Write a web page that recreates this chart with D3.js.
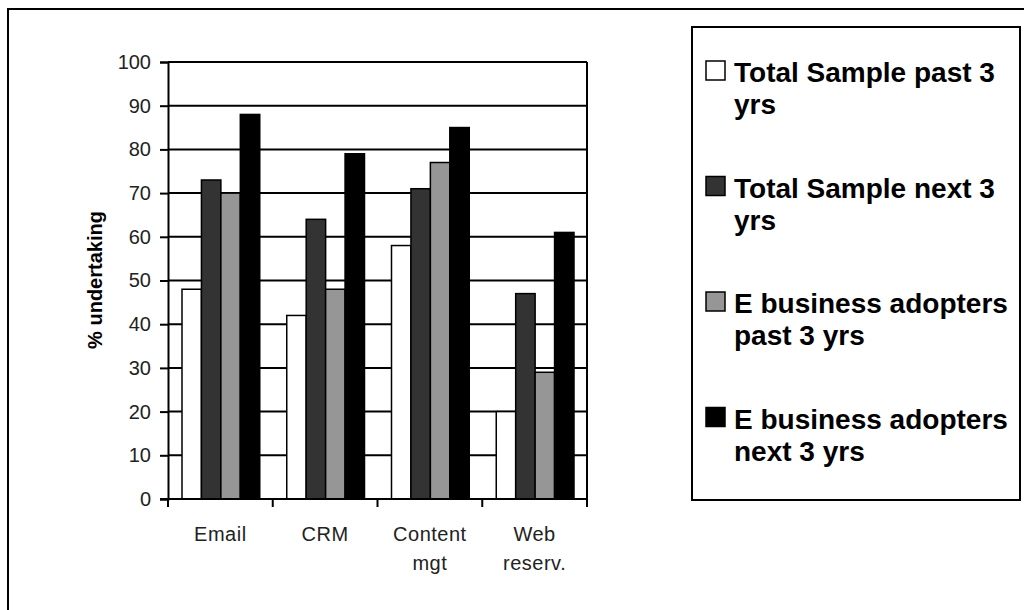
<!DOCTYPE html>
<html lang="en">
<head>
    <meta charset="UTF-8">
    <title>E business activities - bar chart</title>
    <style>
        body { margin: 0; background: #fff; }
        svg { display: block; }
        text { font-family: "Liberation Sans", Arial, sans-serif; fill: #000; }
        .tick-label { font-size: 20px; fill: #222; }
        .cat-label { font-size: 20px; fill: #222; letter-spacing: 0.5px; }
        .y-title { font-size: 20px; font-weight: bold; }
        .legend-text { font-size: 28px; font-weight: bold; }
    </style>
</head>
<body>
    <svg width="1024" height="610"></svg>
    <script src="https://d3js.org/d3.v7.min.js"></script>
    <script>
        // data
        var categories = ["Email", "CRM", "Content mgt", "Web reserv."];
        var seriesNames = ["Total Sample past 3 yrs", "Total Sample next 3 yrs",
                           "E business adopters past 3 yrs", "E business adopters next 3 yrs"];
        var totalPast = [48, 42, 58, 20];
        var totalNext = [73, 64, 71, 47];
        var adoptersPast = [70, 48, 77, 29];
        var adoptersNext = [88, 79, 85, 61];
        var yTicks = [0, 10, 20, 30, 40, 50, 60, 70, 80, 90, 100];
        var colors = ["#ffffff", "#333333", "#969696", "#000000"];

        var seriesValues = [totalPast, totalNext, adoptersPast, adoptersNext];

        var svg = d3.select("svg");

        // outer frame (runs off the right and bottom of the picture)
        svg.append("rect")
            .attr("x", 8).attr("y", 9)
            .attr("width", 1040).attr("height", 640)
            .attr("fill", "none").attr("stroke", "#000").attr("stroke-width", 2);

        var plotLeft = 168, plotRight = 587, plotTop = 62, plotBottom = 499;

        var x0 = d3.scaleBand().domain(categories).range([plotLeft, plotRight]).padding(0);
        var x1 = d3.scaleBand().domain(d3.range(seriesNames.length))
            .range([14, x0.bandwidth() - 13]).padding(0);
        var y = d3.scaleLinear().domain([0, 100]).range([plotBottom, plotTop]);

        // gridlines
        svg.append("g").selectAll("line")
            .data(yTicks.filter(function(t) { return t > 0; }))
            .enter().append("line")
            .attr("x1", plotLeft).attr("x2", plotRight)
            .attr("y1", function(d) { return y(d); })
            .attr("y2", function(d) { return y(d); })
            .attr("stroke", "#000").attr("stroke-width", 2);

        // right border of plot area
        svg.append("line")
            .attr("x1", plotRight).attr("x2", plotRight)
            .attr("y1", plotTop).attr("y2", plotBottom)
            .attr("stroke", "#000").attr("stroke-width", 2);

        // bars
        var groups = svg.append("g").selectAll("g")
            .data(categories)
            .enter().append("g")
            .attr("transform", function(d) { return "translate(" + x0(d) + ",0)"; });

        groups.selectAll("rect")
            .data(function(d, i) {
                return seriesValues.map(function(s, k) { return {k: k, v: s[i]}; });
            })
            .enter().append("rect")
            .attr("x", function(d) { return x1(d.k); })
            .attr("width", x1.bandwidth())
            .attr("y", function(d) { return y(d.v); })
            .attr("height", function(d) { return plotBottom - y(d.v); })
            .attr("fill", function(d) { return colors[d.k]; })
            .attr("stroke", "#000").attr("stroke-width", 1.5);

        // y axis
        var yAxis = svg.append("g")
            .attr("transform", "translate(" + plotLeft + ",0)")
            .call(d3.axisLeft(y).tickValues(yTicks).tickSize(8).tickPadding(9));
        yAxis.select(".domain").attr("stroke", "#000").attr("stroke-width", 2);
        yAxis.selectAll(".tick line").attr("stroke", "#000").attr("stroke-width", 2);
        yAxis.attr("font-family", null).attr("font-size", null);
        yAxis.selectAll(".tick text").attr("class", "tick-label");

        // x axis: ticks on band edges
        var xAxis = svg.append("g")
            .attr("transform", "translate(0," + plotBottom + ")");
        xAxis.append("line")
            .attr("x1", plotLeft - 8).attr("x2", plotRight)
            .attr("stroke", "#000").attr("stroke-width", 2);
        xAxis.selectAll(".xt")
            .data(categories.concat(["end"]))
            .enter().append("line")
            .attr("class", "xt")
            .attr("x1", function(d, i) { return i < categories.length ? x0(d) : plotRight; })
            .attr("x2", function(d, i) { return i < categories.length ? x0(d) : plotRight; })
            .attr("y1", 0).attr("y2", 8)
            .attr("stroke", "#000").attr("stroke-width", 2);

        xAxis.selectAll(".cat-label")
            .data(categories)
            .enter().append("text")
            .attr("class", "cat-label")
            .attr("text-anchor", "middle")
            .attr("x", function(d) { return x0(d) + x0.bandwidth() / 2; })
            .attr("y", 42)
            .each(function(d) {
                var el = d3.select(this);
                d.split(" ").forEach(function(w, i) {
                    el.append("tspan")
                        .attr("x", x0(d) + x0.bandwidth() / 2)
                        .attr("dy", i === 0 ? 0 : 29)
                        .text(w);
                });
            });

        // y title
        svg.append("text")
            .attr("class", "y-title")
            .attr("text-anchor", "middle")
            .attr("transform", "translate(102,280) rotate(-90)")
            .text("% undertaking");

        // legend
        var legend = svg.append("g");
        legend.append("rect")
            .attr("x", 692).attr("y", 27)
            .attr("width", 328).attr("height", 473)
            .attr("fill", "#fff").attr("stroke", "#000").attr("stroke-width", 2);

        var maxW = 285;
        seriesNames.forEach(function(name, k) {
            var base = 82 + k * 115.5;
            legend.append("rect")
                .attr("x", 706).attr("y", base - 21)
                .attr("width", 19).attr("height", 19)
                .attr("fill", colors[k]).attr("stroke", "#000").attr("stroke-width", 1.5);
            var t = legend.append("text")
                .attr("class", "legend-text")
                .attr("x", 734).attr("y", base);
            // word wrap
            var words = name.split(" "), line = [];
            var tspan = t.append("tspan").attr("x", 734).attr("dy", 0);
            words.forEach(function(w) {
                line.push(w);
                tspan.text(line.join(" "));
                if (tspan.node().getComputedTextLength() > maxW && line.length > 1) {
                    line.pop();
                    tspan.text(line.join(" "));
                    line = [w];
                    tspan = t.append("tspan").attr("x", 734).attr("dy", 32).text(w);
                }
            });
        });
    </script>
</body>
</html>
